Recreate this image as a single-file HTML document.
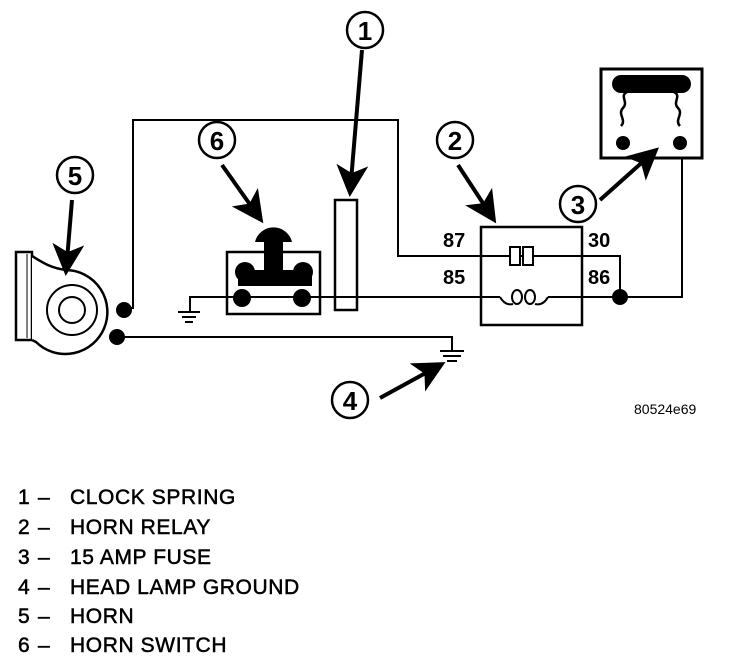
<!DOCTYPE html>
<html><head><meta charset="utf-8"><style>
html,body{margin:0;padding:0;background:#fff;}
svg{display:block;}
.c{font-family:"Liberation Sans",sans-serif;font-weight:bold;}
</style></head><body>
<svg width="752" height="660" viewBox="0 0 752 660" xmlns="http://www.w3.org/2000/svg">
<defs>
<marker id="ah" markerWidth="8" markerHeight="8" refX="7" refY="4" orient="auto" markerUnits="strokeWidth">
<path d="M0,0 L8,4 L0,8 L2,4 z" fill="#000"/>
</marker>
</defs>
<g fill="none" stroke="#000" stroke-width="2">
<polyline points="126,308 133,308 133,120 398,120 398,256 620,256 620,297"/>
<polyline points="190,312 190,297 622,297"/>
<polyline points="620,297 682,297 682,158"/>
<polyline points="118,337 452,337 452,350"/>
</g>
<g stroke="#000" stroke-width="2">
<line x1="178" y1="312" x2="200" y2="312"/><line x1="182" y1="317" x2="196" y2="317"/><line x1="185" y1="322" x2="193" y2="322"/>
<line x1="440" y1="351" x2="464" y2="351"/><line x1="443" y1="356" x2="461" y2="356"/><line x1="447" y1="361" x2="457" y2="361"/>
</g>
<rect x="16" y="252" width="16" height="88" fill="#fff" stroke="#000" stroke-width="2.5"/>
<line x1="27" y1="254" x2="27" y2="338" stroke="#000" stroke-width="1"/>
<path d="M32,256 C42,262 50,268 66,270 A42,42 0 1 1 36,342 L32,340" fill="#fff" stroke="#000" stroke-width="2.5"/>
<circle cx="72" cy="310" r="25" fill="none" stroke="#000" stroke-width="2"/>
<circle cx="72" cy="310" r="13" fill="none" stroke="#000" stroke-width="2"/>
<circle cx="124" cy="310" r="8" fill="#000"/>
<circle cx="117" cy="337" r="8" fill="#000"/>
<rect x="227" y="252" width="93" height="62" fill="#fff" stroke="#000" stroke-width="2.5"/>
<path d="M255,242 A19,19 0 0 1 292,242 Z" fill="#000"/>
<rect x="264" y="238" width="19" height="48" fill="#000"/>
<rect x="238" y="270" width="74" height="16" fill="#000"/>
<circle cx="245" cy="272" r="10" fill="#000"/><circle cx="303" cy="272" r="10" fill="#000"/>
<circle cx="242" cy="298" r="9" fill="#000"/><circle cx="302" cy="298" r="9" fill="#000"/>
<line x1="190" y1="297" x2="330" y2="297" stroke="#000" stroke-width="2"/>
<rect x="335" y="200" width="22" height="110" fill="#fff" stroke="#000" stroke-width="2.5"/>
<line x1="335" y1="297" x2="357" y2="297" stroke="#000" stroke-width="2"/>
<rect x="481" y="227" width="101" height="98" fill="none" stroke="#000" stroke-width="2.5"/>
<rect x="510" y="247" width="10" height="18" fill="#fff" stroke="#000" stroke-width="2"/>
<rect x="523" y="247" width="10" height="18" fill="#fff" stroke="#000" stroke-width="2"/>
<rect x="500" y="294" width="48" height="6" fill="#fff"/>
<ellipse cx="517" cy="297" rx="5" ry="7" fill="none" stroke="#000" stroke-width="2"/>
<ellipse cx="530" cy="297" rx="5" ry="7" fill="none" stroke="#000" stroke-width="2"/>
<path d="M500,297 Q505,306 513,304 M548,297 Q543,306 535,304" fill="none" stroke="#000" stroke-width="2"/>
<circle cx="620" cy="297" r="8" fill="#000"/>
<text x="443" y="247" class="c" font-size="20">87</text>
<text x="588" y="247" class="c" font-size="20">30</text>
<text x="443" y="284" class="c" font-size="20">85</text>
<text x="588" y="284" class="c" font-size="20">86</text>
<rect x="601" y="69" width="101" height="89" fill="#fff" stroke="#000" stroke-width="3"/>
<rect x="612" y="75" width="79" height="18" rx="9" fill="#000"/>
<path d="M627,92 c-8,4 2,10 -4,16 c-6,6 4,12 -2,18 M674,92 c8,4 -2,10 4,16 c6,6 -4,12 2,18" fill="none" stroke="#000" stroke-width="2.5"/>
<circle cx="623" cy="143" r="7" fill="#000"/><circle cx="680" cy="143" r="7" fill="#000"/>
<g fill="#fff" stroke="#000" stroke-width="2.5">
<circle cx="365" cy="30" r="18"/><circle cx="217" cy="140" r="18"/><circle cx="75" cy="175" r="18"/>
<circle cx="455" cy="140" r="18"/><circle cx="578" cy="204" r="18"/><circle cx="350" cy="400" r="18"/>
</g>
<g class="c" font-size="26" text-anchor="middle">
<text x="365" y="40">1</text><text x="217" y="150">6</text><text x="75" y="185">5</text>
<text x="455" y="150">2</text><text x="578" y="214">3</text><text x="350" y="410">4</text>
</g>
<g stroke="#000" stroke-width="4" marker-end="url(#ah)">
<line x1="362" y1="50" x2="350" y2="193"/>
<line x1="222" y1="165" x2="261" y2="220"/>
<line x1="72" y1="200" x2="66" y2="272"/>
<line x1="458" y1="165" x2="494" y2="220"/>
<line x1="600" y1="200" x2="656" y2="150"/>
<line x1="380" y1="398" x2="442" y2="364"/>
</g>
<text x="634" y="414" font-family="Liberation Sans, sans-serif" font-size="14">80524e69</text>
<g font-family="Liberation Sans, sans-serif" font-size="21" letter-spacing="0.6" stroke="#000" stroke-width="0.5">
<text x="18" y="504">1</text><text x="38" y="504">–</text><text x="70" y="504">CLOCK SPRING</text>
<text x="18" y="534">2</text><text x="38" y="534">–</text><text x="70" y="534">HORN RELAY</text>
<text x="18" y="564">3</text><text x="38" y="564">–</text><text x="70" y="564">15 AMP FUSE</text>
<text x="18" y="594">4</text><text x="38" y="594">–</text><text x="70" y="594">HEAD LAMP GROUND</text>
<text x="18" y="623">5</text><text x="38" y="623">–</text><text x="70" y="623">HORN</text>
<text x="18" y="652">6</text><text x="38" y="652">–</text><text x="70" y="652">HORN SWITCH</text>
</g>
</svg>
</body></html>
